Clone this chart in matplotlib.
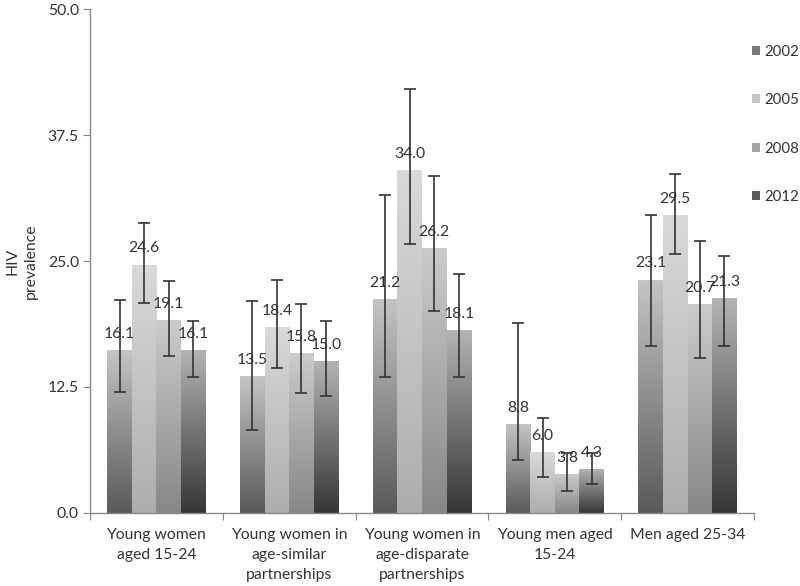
import numpy as np
import matplotlib
matplotlib.use("Agg")
import matplotlib.pyplot as plt
from matplotlib.colors import LinearSegmentedColormap
from matplotlib.patches import Patch

plt.rcParams['font.family'] = ['Lato', 'DejaVu Sans']

categories = ["Young women\naged 15-24",
              "Young women in\nage-similar\npartnerships",
              "Young women in\nage-disparate\npartnerships",
              "Young men aged\n15-24",
              "Men aged 25-34"]
years = ["2002", "2005", "2008", "2012"]

values = {
    "2002": [16.1, 13.5, 21.2, 8.8, 23.1],
    "2005": [24.6, 18.4, 34.0, 6.0, 29.5],
    "2008": [19.1, 15.8, 26.2, 3.8, 20.7],
    "2012": [16.1, 15.0, 18.1, 4.3, 21.3],
}
err_low = {
    "2002": [12.0, 8.2, 13.5, 5.3, 16.6],
    "2005": [20.8, 14.4, 26.7, 3.6, 25.7],
    "2008": [15.6, 11.9, 20.0, 2.2, 15.4],
    "2012": [13.5, 11.6, 13.5, 2.9, 16.6],
}
err_high = {
    "2002": [21.1, 21.0, 31.5, 18.8, 29.6],
    "2005": [28.8, 23.1, 42.1, 9.4, 33.6],
    "2008": [23.0, 20.7, 33.4, 6.0, 27.0],
    "2012": [19.0, 19.0, 23.7, 6.0, 25.5],
}
yticks = [0.0, 12.5, 25.0, 37.5, 50.0]

grad = {
    "2002": ("#595959", "#c4c4c4"),
    "2005": ("#adadad", "#d9d9d9"),
    "2008": ("#878787", "#cbcbcb"),
    "2012": ("#363636", "#b3b3b3"),
}
legend_col = {"2002": "#7a7a7a", "2005": "#c4c4c4", "2008": "#a3a3a3", "2012": "#5a5a5a"}

FS = 11.3
fig = plt.figure(figsize=(8, 5.86), dpi=100)
ax = fig.add_axes([0.1125, 0.1246, 0.83, 0.86])

x = np.arange(len(categories))
w = 0.185
txt = "#333333"
for i, yr in enumerate(years):
    pos = x + (i - 1.5) * w
    vals = np.array(values[yr])
    bars = ax.bar(pos, vals, w, color="none", edgecolor="none", zorder=2)
    cmap = LinearSegmentedColormap.from_list(yr, [grad[yr][0], grad[yr][1]])
    g = np.linspace(0, 1, 256).reshape(-1, 1)
    for b in bars:
        x0, y0 = b.get_x(), b.get_y()
        ax.imshow(g, cmap=cmap, origin="lower", aspect="auto",
                  extent=[x0, x0 + b.get_width(), y0, y0 + b.get_height()], zorder=2)
    lo = vals - np.array(err_low[yr])
    hi = np.array(err_high[yr]) - vals
    ax.errorbar(pos, vals, yerr=[lo, hi], fmt="none", ecolor="#333333",
                elinewidth=1.2, capsize=4.5, capthick=1.2, zorder=4)
    for px, v in zip(pos, vals):
        ax.annotate(f"{v:.1f}", (px, v), xytext=(0, 12), textcoords="offset points",
                    ha="center", va="center", fontsize=FS, color=txt, zorder=5)

ax.set_xlim(-0.5, len(categories) - 0.5)
ax.set_ylim(0, 50)
ax.set_yticks(yticks)
ax.set_yticklabels([f"{t:.1f}" for t in yticks], fontsize=FS, color=txt)
ax.set_xticks(np.arange(-0.5, len(categories), 1.0))
ax.set_xticklabels([])
ax.set_xticks(x, minor=True)
ax.set_xticklabels(categories, minor=True, fontsize=FS, color=txt, linespacing=1.55)
ax.tick_params(axis="x", which="minor", length=0, pad=11)
ax.tick_params(axis="x", which="major", length=5, color="#888888", direction="out")
ax.tick_params(axis="y", length=5, color="#888888", direction="out", pad=3)
for s in ["top", "right"]:
    ax.spines[s].set_visible(False)
for s in ["left", "bottom"]:
    ax.spines[s].set_color("#888888")
    ax.spines[s].set_linewidth(1.0)

fig.text(0.027, 0.554, "HIV\nprevalence", rotation=90, ha="center", va="center",
         fontsize=FS, color=txt, linespacing=1.45)

handles = [Patch(facecolor=legend_col[yr], edgecolor="none", label=yr) for yr in years]
leg = fig.legend(handles=handles, loc="upper left", bbox_to_anchor=(0.94, 0.924),
                 frameon=False, fontsize=10.8, handlelength=0.55, handleheight=0.55,
                 handletextpad=0.3, labelspacing=2.3, borderaxespad=0, borderpad=0)
for t in leg.get_texts():
    t.set_color(txt)

fig.savefig("out.png", dpi=100)
